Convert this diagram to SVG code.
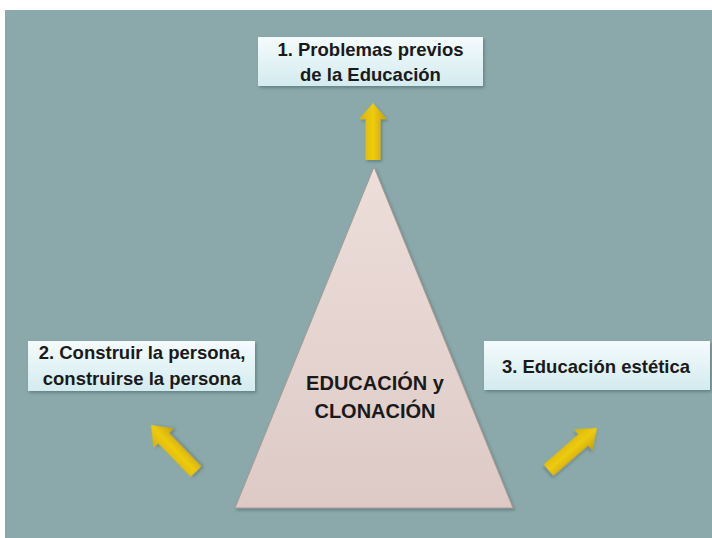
<svg xmlns="http://www.w3.org/2000/svg" width="712" height="538" viewBox="0 0 712 538">
<defs>
  <linearGradient id="boxg" x1="0" y1="0" x2="0" y2="1">
    <stop offset="0" stop-color="#F4FBFC"/>
    <stop offset="1" stop-color="#D3EBEF"/>
  </linearGradient>
  <linearGradient id="trig" x1="0" y1="0" x2="0" y2="1">
    <stop offset="0" stop-color="#EDDEDA"/>
    <stop offset="1" stop-color="#DDCAC6"/>
  </linearGradient>
  <linearGradient id="arrg" x1="0" y1="0" x2="1" y2="0">
    <stop offset="0" stop-color="#D9B300"/>
    <stop offset="0.5" stop-color="#EDCB10"/>
    <stop offset="1" stop-color="#C9A200"/>
  </linearGradient>
  <filter id="sh" x="-10%" y="-10%" width="125%" height="130%">
    <feDropShadow dx="1.5" dy="2" stdDeviation="1.5" flood-color="#3d5557" flood-opacity="0.45"/>
  </filter>
  <path id="arrow" d="M0,0 L14,17 L7.5,17 L7.5,60 L-7.5,60 L-7.5,17 L-14,17 Z"/>
</defs>
<style>
  .box { fill: url(#boxg); filter: url(#sh); }
  .lbl { font-family: "Liberation Sans", Arial, sans-serif; font-weight: bold; font-size: 18.5px; fill: #1a1a1a; text-anchor: middle; }
  .big { font-size: 20px; }
  .arr { fill: url(#arrg); filter: url(#sh); }
</style>
<rect x="5" y="10" width="707" height="528" fill="#8BA9AA"/>

<g id="connectors">
  <use href="#arrow" class="arr" transform="translate(373,103) scale(1,0.95)"/>
  <use href="#arrow" class="arr" transform="translate(151,425) rotate(-44) scale(1,1.08)"/>
  <use href="#arrow" class="arr" transform="translate(597,428) rotate(49) scale(1,1.07)"/>
</g>

<g id="center">
  <polygon points="374,167 513,508 235,508" fill="url(#trig)" stroke="#A89A96" stroke-width="1" filter="url(#sh)"/>
  <text class="lbl big" x="375" y="390">EDUCACIÓN y</text>
  <text class="lbl big" x="375" y="418">CLONACIÓN</text>
</g>

<g id="node1">
  <rect class="box" x="258" y="37" width="225" height="49"/>
  <text class="lbl" x="370.5" y="56">1. Problemas previos</text>
  <text class="lbl" x="370.5" y="81">de la Educación</text>
</g>

<g id="node2">
  <rect class="box" x="28" y="341" width="227" height="50"/>
  <text class="lbl" x="142" y="359">2. Construir la persona,</text>
  <text class="lbl" x="142" y="385">construirse la persona</text>
</g>

<g id="node3">
  <rect class="box" x="484" y="341" width="226" height="49"/>
  <text class="lbl" x="596" y="373">3. Educación estética</text>
</g>
</svg>
